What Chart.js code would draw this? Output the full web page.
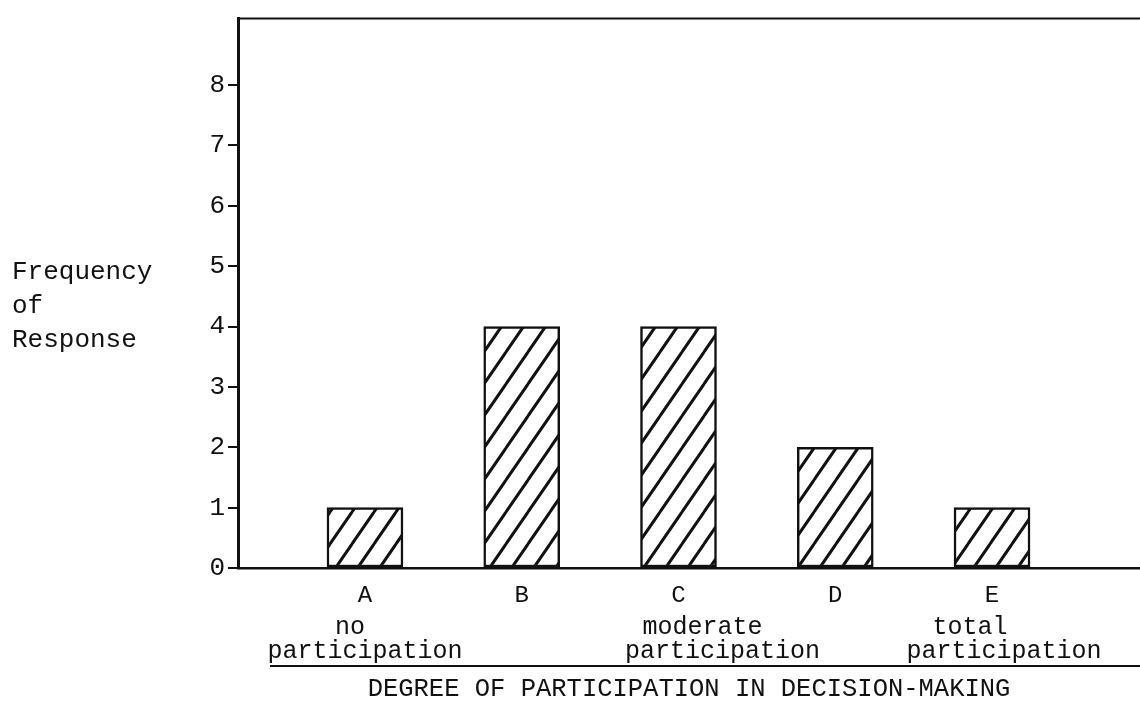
<!DOCTYPE html>
<html>
<head>
<meta charset="utf-8">
<script src="https://cdn.jsdelivr.net/npm/chart.js@4/dist/chart.umd.min.js"></script>
<style>
html,body{margin:0;padding:0;background:#fff;}
#wrap{width:1140px;height:719px;position:relative;}
</style>
</head>
<body>
<div id="wrap"><canvas id="c" width="1140" height="719"></canvas></div>
<script>
// ---- data ----
const categories = ["A", "B", "C", "D", "E"];
const descriptors = [["no", "participation"], [], ["moderate", "participation"], [], ["total", "participation"]];
const frequencies = [1, 4, 4, 2, 1];
const yTicks = [0, 1, 2, 3, 4, 5, 6, 7, 8];
const yAxisLabel = ["Frequency", "of", "Response"];
const xAxisTitle = "DEGREE OF PARTICIPATION IN DECISION-MAKING";

const FONT = "'Liberation Mono', 'DejaVu Sans Mono', monospace";
// typed-text horizontal nudges (layout only), per category and line
const descNudge = [[-15, 0], [], [24, 44], [], [-22, 12]];

function hatchPattern() {
  const w = 22, h = 32;
  const cv = document.createElement('canvas');
  cv.width = w; cv.height = h;
  const g = cv.getContext('2d');
  g.fillStyle = '#fff';
  g.fillRect(0, 0, w, h);
  g.strokeStyle = '#111';
  g.lineWidth = 3;
  g.lineCap = 'round';
  for (let k = -1; k <= 1; k++) {
    g.beginPath();
    g.moveTo(k * w, h);
    g.lineTo(k * w + w, 0);
    g.stroke();
  }
  return document.getElementById('c').getContext('2d').createPattern(cv, 'repeat');
}

const decor = {
  id: 'decor',
  afterDraw(chart) {
    const ctx = chart.ctx;
    const a = chart.chartArea;
    const xs = chart.scales.x;
    ctx.save();
    // top frame line
    ctx.strokeStyle = '#111';
    ctx.lineWidth = 2;
    ctx.beginPath();
    ctx.moveTo(a.left, a.top);
    ctx.lineTo(a.right, a.top);
    ctx.stroke();
    // y-axis label
    ctx.fillStyle = '#111';
    ctx.font = "26px " + FONT;
    ctx.textAlign = 'left';
    ctx.textBaseline = 'middle';
    const ly = [272, 306, 340];
    yAxisLabel.forEach((t, i) => ctx.fillText(t, 12, ly[i]));
    // category descriptors
    ctx.font = "25px " + FONT;
    ctx.textAlign = 'center';
    descriptors.forEach((lines, i) => {
      const px = xs.getPixelForValue(i);
      lines.forEach((t, j) => ctx.fillText(t, px + (descNudge[i][j] || 0), 627 + j * 24));
    });
    // underline
    ctx.lineWidth = 2;
    ctx.beginPath();
    ctx.moveTo(270, 666);
    ctx.lineTo(a.right, 666);
    ctx.stroke();
    ctx.restore();
  }
};

new Chart(document.getElementById('c'), {
  type: 'bar',
  data: {
    datasets: [{
      data: frequencies.map((v, i) => ({ x: i, y: v })),
      backgroundColor: hatchPattern(),
      borderColor: '#111',
      borderWidth: 2.5,
      borderSkipped: false,
      barThickness: 76
    }]
  },
  plugins: [decor],
  options: {
    responsive: false,
    animation: false,
    events: [],
    layout: { padding: { top: 13, left: 0, right: 0, bottom: 0 } },
    plugins: { legend: { display: false }, tooltip: { enabled: false } },
    scales: {
      x: {
        type: 'linear',
        offset: false,
        min: -0.81,
        max: 4.944,
        afterFit(s) { s.height = 151; },
        afterBuildTicks(s) { s.ticks = categories.map((_, i) => ({ value: i })); },
        ticks: {
          callback: (v) => categories[v],
          color: '#111',
          font: { family: FONT, size: 24 },
          padding: 13,
          maxRotation: 0,
          autoSkip: false
        },
        grid: { display: false, drawTicks: false, offset: false },
        border: { display: true, color: '#111', width: 2.5 },
        title: {
          display: true,
          text: xAxisTitle,
          color: '#111',
          font: { family: FONT, size: 25.5 },
          padding: { top: 4, bottom: 14 }
        }
      },
      y: {
        min: 0,
        max: 9.1,
        afterFit(s) { s.width = 238; },
        afterBuildTicks(s) { s.ticks = yTicks.map(v => ({ value: v })); },
        ticks: {
          color: '#111',
          font: { family: FONT, size: 26 },
          padding: 3
        },
        grid: { drawOnChartArea: false, drawTicks: true, tickLength: 10, color: '#111', lineWidth: 2 },
        border: { display: true, color: '#111', width: 3 }
      }
    }
  }
});
</script>
</body>
</html>
